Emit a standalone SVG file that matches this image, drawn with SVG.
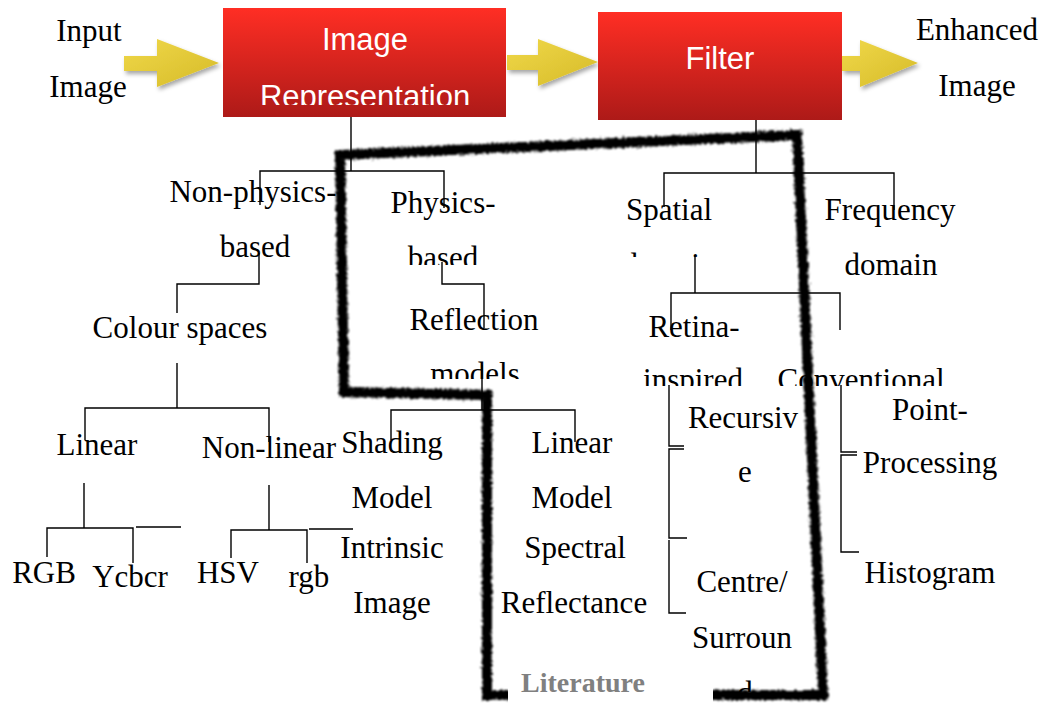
<svg xmlns="http://www.w3.org/2000/svg" width="1051" height="704" viewBox="0 0 1051 704">
  <defs>
    <linearGradient id="redFill" x1="0" y1="0" x2="0" y2="1">
      <stop offset="0" stop-color="#ff2e24"/>
      <stop offset="1" stop-color="#ad1a18"/>
    </linearGradient>
    <linearGradient id="goldFill" x1="0" y1="0" x2="1" y2="1">
      <stop offset="0" stop-color="#f0d84a"/>
      <stop offset="1" stop-color="#d6bb28"/>
    </linearGradient>
    <filter id="shadow" x="-20%" y="-20%" width="150%" height="160%">
      <feDropShadow dx="2" dy="3" stdDeviation="2" flood-color="#000" flood-opacity="0.35"/>
    </filter>
    <filter id="rough" x="-5%" y="-5%" width="110%" height="110%">
      <feTurbulence type="fractalNoise" baseFrequency="0.4" numOctaves="3" seed="3" result="noise"/>
      <feDisplacementMap in="SourceGraphic" in2="noise" scale="5" xChannelSelector="R" yChannelSelector="G"/>
      <feGaussianBlur stdDeviation="0.8"/>
    </filter>
    <clipPath id="clipRep"><rect x="0" y="0" width="1051" height="105"/></clipPath>
    <clipPath id="clipPhysBased"><rect x="0" y="0" width="1051" height="265"/></clipPath>
    <clipPath id="clipSpatDom"><rect x="0" y="0" width="1051" height="257"/></clipPath>
    <clipPath id="clipModels"><rect x="0" y="0" width="1051" height="379"/></clipPath>
    <clipPath id="clipRow"><rect x="0" y="0" width="1051" height="386"/></clipPath>
    <clipPath id="clipLast"><rect x="0" y="0" width="1051" height="692"/></clipPath>
    <style>
      .t { font-family: "Liberation Serif", "Times New Roman", serif; font-size: 31px; fill: #000; text-anchor: middle; }
      .w { font-family: "Liberation Sans", Arial, sans-serif; font-size: 31px; fill: #fff; text-anchor: middle; }
      .lit { font-family: "Liberation Serif", "Times New Roman", serif; font-size: 28px; font-weight: bold; fill: #808080; text-anchor: middle; }
      .box { fill: url(#redFill); }
      .arrow { fill: url(#goldFill); filter: url(#shadow); }
      .c { fill: none; stroke: #000; stroke-width: 1.4; }
    </style>
  </defs>

  <rect width="1051" height="704" fill="#fff"/>

  <!-- pipeline arrows -->
  <g id="arrows">
    <path class="arrow" d="M124,56 H157 V39 L219,63 L157,87 V71 H124 Z"/>
    <path class="arrow" d="M507,55 H538 V39 L598,62 L538,86 V70 H507 Z"/>
    <path class="arrow" d="M842,56 H860 V40 L918,63 L860,87 V71 H842 Z"/>
  </g>

  <g id="input">
    <text class="t" x="89" y="41">Input</text>
    <text class="t" x="88" y="97">Image</text>
  </g>
  <g id="output">
    <text class="t" x="977" y="40">Enhanced</text>
    <text class="t" x="977" y="96">Image</text>
  </g>

  <g id="image-representation">
    <rect class="box" x="223" y="8" width="283" height="109"/>
    <text class="w" x="365" y="50">Image</text>
    <text class="w" x="365" y="107" clip-path="url(#clipRep)">Representation</text>
  </g>
  <g id="filter">
    <rect class="box" x="598" y="12" width="244" height="108"/>
    <text class="w" x="720" y="69">Filter</text>
  </g>

  <!-- tree connectors -->
  <g id="connectors">
    <path class="c" d="M351,117 V171 M260,205 V171 H444 V208"/>
    <path class="c" d="M259,253 V284 H177 V313"/>
    <path class="c" d="M442,262 V284 H484 V328"/>
    <path class="c" d="M177,363 V408 M85,440 V408 H269 V442"/>
    <path class="c" d="M84,483 V528 M47,557 V528 H133 V563 M136,527 H181"/>
    <path class="c" d="M269,485 V530 M231,558 V530 H307 V563 M309,529 H353"/>
    <path class="c" d="M482,365 V410 M391,440 V410 H575 V442"/>
    <path class="c" d="M756,120 V173 M664,207 V173 H894 V210"/>
    <path class="c" d="M695,255 V293 M671,330 V293 H840 V330"/>
    <path class="c" d="M669,385 V446 H684 M684,449 H669 V538 H687 M669,540 V613 H686"/>
    <path class="c" d="M841,385 V452 H857 M857,455 H841 V552 H859"/>
  </g>

  <g id="non-physics-based">
    <text class="t" x="253" y="202">Non-physics-</text>
    <text class="t" x="255" y="257">based</text>
  </g>
  <g id="physics-based">
    <text class="t" x="443" y="213">Physics-</text>
    <text class="t" x="443" y="268" clip-path="url(#clipPhysBased)">based</text>
  </g>
  <g id="colour-spaces">
    <text class="t" x="180" y="338">Colour spaces</text>
  </g>
  <g id="reflection-models">
    <text class="t" x="474" y="330">Reflection</text>
    <text class="t" x="475" y="384" clip-path="url(#clipModels)">models</text>
  </g>
  <g id="spatial-domain">
    <text class="t" x="669" y="220">Spatial</text>
    <text class="t" x="669" y="275" clip-path="url(#clipSpatDom)">domain</text>
  </g>
  <g id="frequency-domain">
    <text class="t" x="890" y="220">Frequency</text>
    <text class="t" x="891" y="275">domain</text>
  </g>
  <g id="retina-inspired">
    <text class="t" x="694" y="337">Retina-</text>
    <text class="t" x="693" y="390" clip-path="url(#clipRow)">inspired</text>
  </g>
  <g id="conventional">
    <text class="t" x="861" y="390" clip-path="url(#clipRow)">Conventional</text>
  </g>
  <g id="linear">
    <text class="t" x="97" y="455">Linear</text>
  </g>
  <g id="non-linear">
    <text class="t" x="269" y="458">Non-linear</text>
  </g>
  <g id="rgb-upper"><text class="t" x="44" y="583">RGB</text></g>
  <g id="ycbcr"><text class="t" x="130" y="587">Ycbcr</text></g>
  <g id="hsv"><text class="t" x="228" y="583">HSV</text></g>
  <g id="rgb-lower"><text class="t" x="309" y="587">rgb</text></g>
  <g id="shading-model">
    <text class="t" x="392" y="453">Shading</text>
    <text class="t" x="392" y="508">Model</text>
  </g>
  <g id="intrinsic-image">
    <text class="t" x="392" y="558">Intrinsic</text>
    <text class="t" x="392" y="613">Image</text>
  </g>
  <g id="linear-model">
    <text class="t" x="572" y="453">Linear</text>
    <text class="t" x="572" y="508">Model</text>
  </g>
  <g id="spectral-reflectance">
    <text class="t" x="575" y="558">Spectral</text>
    <text class="t" x="574" y="613">Reflectance</text>
  </g>
  <g id="recursive">
    <text class="t" x="743" y="428">Recursiv</text>
    <text class="t" x="745" y="482">e</text>
  </g>
  <g id="centre-surround">
    <text class="t" x="742" y="592">Centre/</text>
    <text class="t" x="742" y="648">Surroun</text>
    <text class="t" x="745" y="703" clip-path="url(#clipLast)">d</text>
  </g>
  <g id="point-processing">
    <text class="t" x="930" y="420">Point-</text>
    <text class="t" x="930" y="473">Processing</text>
  </g>
  <g id="histogram">
    <text class="t" x="930" y="583">Histogram</text>
  </g>

  <!-- hand-drawn literature outline -->
  <g id="literature-outline" filter="url(#rough)">
    <path d="M340,155 L797,135 L823,695 L487,695 L487,395 L344,392 Z" fill="none" stroke="#000" stroke-width="10" stroke-linejoin="miter"/>
  </g>

  <g id="literature">
    <rect x="508" y="658" width="205" height="46" fill="#fff"/>
    <text class="lit" x="583" y="692">Literature</text>
  </g>
</svg>
